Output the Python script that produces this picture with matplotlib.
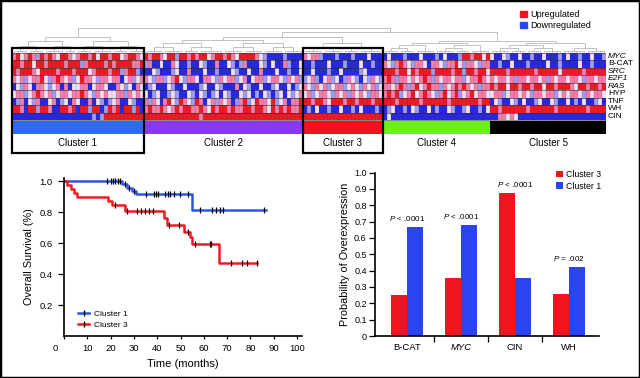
import numpy as np
import matplotlib
matplotlib.use('Agg')
import matplotlib.pyplot as plt
from matplotlib.patches import Rectangle, Patch
from matplotlib.lines import Line2D
from matplotlib.colors import ListedColormap
from matplotlib.collections import LineCollection
import matplotlib.transforms as mtransforms

plt.rcParams['font.family'] = ['Liberation Sans', 'DejaVu Sans']
plt.rcParams['mathtext.fontset'] = 'custom'
plt.rcParams['mathtext.it'] = 'Liberation Sans:italic'
plt.rcParams['mathtext.rm'] = 'Liberation Sans'

# ---------------- data ----------------
genes = ['MYC', 'B-CAT', 'SRC', 'E2F1', 'RAS', 'HYP', 'TNF', 'WH', 'CIN']
italic_genes = ['MYC', 'SRC', 'E2F1', 'RAS']
cluster_names = ['Cluster 1', 'Cluster 2', 'Cluster 3', 'Cluster 4', 'Cluster 5']
cluster_colors = ['#2F6BEE', '#8A38F0', '#F5121E', '#6CF01C', '#000000']
boxed_clusters = [0, 2]

# expression level codes: B strong down, b weak down, w neutral, r weak up, R strong up
level_codes = 'BbwrR'
level_colors = ['#2828E4', '#9C9CF0', '#F0E0F2', '#F47EAA', '#F01A26']

heat_c1 = ['rRwrRrbRrRr' 'wRRrwrRRrRw' 'RRrRRwrRRrw',
           'RRrRRwRRrRR' 'RRrRRRbrRRR' 'RrRrRRRRrrR',
           'RrRRRrwRRRR' 'rRRRrRRRwrR' 'RRrRRbrRRbB',
           'rwrbwrrRwbr' 'RrwrbwRrrwb' 'rrwrrBwrbwr',
           'BwbrwBrrwbw' 'rBrBwwrrBwr' 'rwBBrwbwBrw',
           'wrrbwrRrwrb' 'wrrwrrRrwbr' 'wrwwrrbrwrw',
           'BbrBwbrBBwr' 'BbwBrwBBrBw' 'bBbwrBBwbBB',
           'RRrBRRbRRrB' 'BRRrRBRRbRR' 'BbRrRBRRbRB',
           'BBBBBBBBBBB' 'BBBBBBBBBbB' 'bRRRRRRRRRR']
heat_c2 = ['RrRRrwRRbR' 'RrRrRRwrRR' 'rRrwRRRRrw' 'bBBBBbBBBB',
           'brBBwBBrwB' 'BbBBwbBBrB' 'BwbBbrBBBw' 'bBwBBrbBBw',
           'BBwbBBBbwB' 'BrBBBwBBbB' 'BBwbBBwBBr' 'BBBwBBbBBw',
           'rwbrrbwrRw' 'brrwBrrwbr' 'wrrbwrBwrr' 'bwrrwbrwrb',
           'BbwBBBwbBB' 'wBBBbwBBwb' 'BBBrBwbBBw' 'BBbwBBwBbw',
           'wBbwBBbwbB' 'BwbBwbBbwB' 'wbBBwbwBbB' 'wbBbwBwbwr',
           'rbrwBrRwbR' 'rwbRrBwrbr' 'wrBbrRbwRr' 'rwRbwrBrrR',
           'rRrrRrwrRr' 'RRrrRrwRrR' 'RrRrrRRrRR' 'rwRrRrRrrR',
           'RRRRRRRRRR' 'RRRRrRRRRR' 'RRRRRRRRRR' 'RRRRRRRRRR']
heat_c3 = ['rwrrbBBBbB' 'BBbBBBwBBB',
           'BBbBBBwBBB' 'bBBBwBBbBB',
           'BBwBBBbBBw' 'BBBBbwBBBB',
           'bwrbBwrbwB' 'brwbBwbrwb',
           'rwbrwrbwrr' 'bwrwbrwrbw',
           'wrbwrrwbrw' 'rbrwrwbrrw',
           'RRrRRrwRRR' 'rRRrRRRrRR',
           'BbBwBBbBBw' 'BBbBwBBBbB',
           'RRRRRRRRRR' 'RRRRRRRRRR']
heat_c4 = ['BwBBBbBBBw' 'BBBbBwBBBb' 'RRrRRwR',
           'rwbrRrwbrr' 'wBrrwbrrRw' 'brrwbrr',
           'RRRrRRwRrR' 'RRbRRRRrRR' 'bRRrRRw',
           'rRrbrrwrwr' 'Rrbrwrrwrr' 'bwrrRrw',
           'rrwrRrbrRw' 'rRrrbrwrRr' 'Rrwrbrr',
           'rRrRbwrRwr' 'RrwbrRwrRb' 'wrRwrrw',
           'RRRrRRRRRr' 'RRRRRRrRRR' 'RRRRrRR',
           'BbwBBbBwbB' 'BwBbBBwbBB' 'bwBBbBw',
           'BwBBBBBBBB' 'BBBBBBBBBB' 'BBBBBBB']
heat_c5 = ['wBBwbBBwBB' 'bBBwBBBbBw' 'BBbBBwBBb',
           'BBbBBwBBBb' 'BBBBwBBbBB' 'BBwBBbBBB',
           'RRRRrRRRRR' 'RrRRRRRwRR' 'RRRrRRRRR',
           'rwrrwrbrrw' 'rrwrbrwrrw' 'rrwbrrwrr',
           'RrRRwRRrRR' 'rRRwRRrRRR' 'rwRRrRRrR',
           'wrrbwrrwrw' 'brrwrrbwrw' 'rrwbrwrrw',
           'BwbBBwbBwB' 'BbwBBwbBBw' 'BbBwBBbwB',
           'RRrRRRRRRr' 'RRRRRRrRRR' 'RRRRrRRRR',
           'BBrrwrwBBB' 'BBBBBBBBBB' 'BBBBBBBBB']
heat_clusters = [heat_c1, heat_c2, heat_c3, heat_c4, heat_c5]

# dendrogram structure (leaf-group sizes) and merge heights
dendro_trees = [[[[4, 4], [5, 3]], [[4, 5], [4, 4]]],
                [[[5, 5], [4, 6]], [[5, 5], [5, 5]]],
                [[5, 5], [4, 6]],
                [[[4, 4], 5], [[5, 4], 5]],
                [[[5, 4], [4, 5]], [6, 5]]]
cluster_top_h = [16, 13, 10, 10, 10]
merge_23_h, merge_45_h, merge_2345_h, root_h = 16, 12, 21, 25

# Kaplan-Meier
km1_times = [0, 25, 27, 29, 31, 55, 86.5]
km1_surv = [1.0, 0.979, 0.958, 0.937, 0.916, 0.813, 0.813]
km1_censor = [18.5, 20, 21, 22, 23, 24, 26, 28, 30, 35, 38.5, 39.5, 40.3, 43.5,
              44.5, 45.5, 47, 49.6, 53.4, 58.5, 63.6, 65.4, 66.8, 68.2, 85.6]
km3_times = [0, 1.5, 3, 4.2, 5.5, 18.7, 20.4, 26.3, 42.8, 44, 51.3, 54.2, 55, 66.5, 82.6]
km3_surv = [1.0, 0.974, 0.948, 0.922, 0.897, 0.872, 0.845, 0.808, 0.761, 0.716,
            0.673, 0.640, 0.594, 0.473, 0.473]
km3_censor = [22, 27, 31.4, 33, 34.7, 36.4, 38.1, 44.9, 49.2, 53, 56.4, 62.7, 63.2,
              71.6, 76.5, 78.5, 82.6]

# bar chart
bar_cats = ['B-CAT', 'MYC', 'CIN', 'WH']
bar_c3 = [0.25, 0.357, 0.873, 0.255]
bar_c1 = [0.667, 0.679, 0.353, 0.42]
bar_p = ['$P$ < .0001', '$P$ < .0001', '$P$ < .0001', '$P$ = .002']

RED = '#F0141E'
BLUE = '#2A44EE'
KM_BLUE = '#2B56E6'
KM_RED = '#EE1C22'

# ---------------- figure ----------------
W, H = 640, 378
fig = plt.figure(figsize=(6.4, 3.78), dpi=100)

def px_axes(x0, y0, x1, y1):
    return fig.add_axes([x0 / W, 1 - y1 / H, (x1 - x0) / W, (y1 - y0) / H])

# heatmap region: x in column units, y in pixel units (top->down)
rows = [''.join(c[i] for c in heat_clusters) for i in range(len(genes))]
lens = set(len(r) for r in rows)
if len(lens) != 1:
    raise ValueError(str([len(r) for r in rows]) + str([[len(s) for s in c] for c in heat_clusters]))
ncol = len(rows[0])
sizes = [len(c[0]) for c in heat_clusters]
starts = np.concatenate([[0], np.cumsum(sizes)[:-1]])

Y0, Y1 = 20, 156
axh = px_axes(12, Y0, 606, Y1)
axh.set_xlim(0, ncol)
axh.set_ylim(Y1, Y0)
axh.axis('off')

hm_top, hm_bot = 52.5, 120.0
Z = np.array([[level_codes.index(ch) for ch in r] for r in rows])
yedges = np.linspace(hm_top, hm_bot, len(genes) + 1)
xedges = np.arange(ncol + 1)
axh.pcolormesh(xedges, yedges, Z, cmap=ListedColormap(level_colors),
               vmin=-0.5, vmax=4.5, linewidth=0, antialiased=False)
axh.vlines(xedges[1:-1], hm_top, hm_bot, colors='#303030', linewidth=0.25, alpha=0.55)
axh.hlines(yedges, 0, ncol, colors='#2a2a2a', linewidth=0.4)
ycent = (yedges[:-1] + yedges[1:]) / 2
for g, yc in zip(genes, ycent):
    axh.text(ncol + 0.5, yc, g, fontsize=6.1, va='center', ha='left',
             style='italic' if g in italic_genes else 'normal', clip_on=False)

# cluster color bar + labels
axh.bar(starts, 13, width=sizes, bottom=121, align='edge', color=cluster_colors, linewidth=0)
for s, n, name in zip(starts, sizes, cluster_names):
    axh.text(s + n / 2, 143.5, name, fontsize=7, ha='center', va='center')
for i in boxed_clusters:
    axh.add_patch(Rectangle((starts[i], 48), sizes[i], 105, fill=False, lw=1.6,
                            ec='black', clip_on=False, zorder=5))

# dendrogram
segs = []
base = hm_top

def depth(node):
    return 0 if isinstance(node, int) else 1 + max(depth(c) for c in node)

def draw_sub(node, start, top, maxd):
    if isinstance(node, int):
        xs = start + 0.5 + np.arange(node)
        hl = 1.8
        for x in xs:
            segs.append([(x, base), (x, base - hl)])
        segs.append([(xs[0], base - hl), (xs[-1], base - hl)])
        return xs.mean(), hl, node
    pts = []
    pos = start
    for ch in node:
        cx, chh, n = draw_sub(ch, pos, top, maxd)
        pts.append((cx, chh))
        pos += n
    h = 1.8 + (top - 1.8) * depth(node) / maxd
    for cx, chh in pts:
        segs.append([(cx, base - chh), (cx, base - h)])
    segs.append([(pts[0][0], base - h), (pts[-1][0], base - h)])
    return (pts[0][0] + pts[-1][0]) / 2, h, pos - start

def join(a, b, h):
    segs.append([(a[0], base - a[1]), (a[0], base - h)])
    segs.append([(b[0], base - b[1]), (b[0], base - h)])
    segs.append([(a[0], base - h), (b[0], base - h)])
    return ((a[0] + b[0]) / 2, h)

res = []
for tree, s, top in zip(dendro_trees, starts, cluster_top_h):
    cx, h, n = draw_sub(tree, s, top, depth(tree))
    res.append((cx, h))
c23 = join(res[1], res[2], merge_23_h)
c45 = join(res[3], res[4], merge_45_h)
r2 = join(c23, c45, merge_2345_h)
join(res[0], r2, root_h)
axh.add_collection(LineCollection(segs, colors='#A8A8A8', linewidths=0.5))

# top legend
fig.legend(handles=[Patch(color=RED, label='Upregulated'),
                    Patch(color=BLUE, label='Downregulated')],
           loc='upper left', bbox_to_anchor=(520 / W, 1 - 10 / H), frameon=False,
           fontsize=6.5, handlelength=0.75, handleheight=0.75, handletextpad=0.4,
           labelspacing=0.25, borderpad=0, borderaxespad=0)

# ---------------- Kaplan-Meier ----------------
ax2 = px_axes(64, 178, 302, 336)

def step_at(times, surv, t):
    idx = np.searchsorted(times, t, side='right') - 1
    return np.asarray(surv)[idx]

ax2.step(km1_times, km1_surv, where='post', color=KM_BLUE, lw=1.8)
ax2.step(km3_times, km3_surv, where='post', color=KM_RED, lw=1.8)
ax2.plot(km1_censor, step_at(km1_times, km1_surv, km1_censor), ls='none', marker='|',
         ms=5, mew=0.9, color='black')
ax2.plot(km3_censor, step_at(km3_times, km3_surv, km3_censor), ls='none', marker='|',
         ms=5, mew=0.9, color='black')
ax2.set_xlim(0, 102.1)
ax2.set_ylim(0, 1.02)
ax2.set_xticks(np.arange(0, 101, 10))
ax2.set_yticks([0.2, 0.4, 0.6, 0.8, 1.0])
ax2.set_yticklabels(['0.2', '0.4', '0.6', '0.8', '1.0'])
ax2.tick_params(axis='both', labelsize=6.8, width=0.9, color='black')
ax2.tick_params(axis='y', length=4, pad=4)
ax2.tick_params(axis='x', length=2, pad=4)
lbl0 = ax2.get_xticklabels()[0]
lbl0.set_transform(lbl0.get_transform() + mtransforms.ScaledTranslation(-9 / 100, 0, fig.dpi_scale_trans))
for sp in ['top', 'right']:
    ax2.spines[sp].set_visible(False)
for sp in ['left', 'bottom']:
    ax2.spines[sp].set_linewidth(1.2)
ax2.set_xlabel('Time (months)', fontsize=8, labelpad=4)
ax2.set_ylabel('Overall Survival (%)', fontsize=7.8, labelpad=4)
ax2.legend(handles=[Line2D([], [], color=KM_BLUE, lw=1.8, marker='|', mec='black', ms=5, label='Cluster 1'),
                    Line2D([], [], color=KM_RED, lw=1.8, marker='|', mec='black', ms=5, label='Cluster 3')],
           loc='lower left', bbox_to_anchor=(0.04, 0.02), frameon=False, fontsize=6,
           handlelength=1.4, labelspacing=0.3, handletextpad=0.5, borderpad=0)

# ---------------- bar chart ----------------
ax3 = px_axes(375, 172.5, 599, 336)
x = np.arange(len(bar_cats))
bw = 0.29
ax3.bar(x - bw / 2, bar_c3, width=bw, color=RED, label='Cluster 3')
ax3.bar(x + bw / 2, bar_c1, width=bw, color=BLUE, label='Cluster 1')
for xi, a, b, p in zip(x, bar_c3, bar_c1, bar_p):
    ax3.text(xi, max(a, b) + 0.025, p, fontsize=5.8, ha='center', va='bottom')
ax3.set_xlim(-0.593, 3.556)
ax3.set_ylim(0, 1.0)
ax3.set_yticks(np.arange(0, 1.01, 0.1))
ax3.set_yticklabels(['0'] + ['%.1f' % v for v in np.arange(0.1, 1.01, 0.1)])
ax3.set_xticks([0.5, 1.5, 2.5])
ax3.set_xticklabels([])
ax3.set_xticks(x, minor=True)
ax3.set_xticklabels(bar_cats, minor=True)
for t in ax3.get_xticklabels(minor=True):
    if t.get_text() in italic_genes:
        t.set_style('italic')
ax3.tick_params(axis='x', which='major', length=4, width=0.9)
ax3.tick_params(axis='x', which='minor', length=0, pad=5, labelsize=6.8)
ax3.tick_params(axis='y', length=4, width=0.9, labelsize=6.5, pad=2)
for sp in ['top', 'right']:
    ax3.spines[sp].set_visible(False)
for sp in ['left', 'bottom']:
    ax3.spines[sp].set_linewidth(1.2)
ax3.set_ylabel('Probability of Overexpression', fontsize=7.8, labelpad=3)
ax3.legend(loc='upper left', bbox_to_anchor=(0.79, 1.04), frameon=False, fontsize=6.3,
           handlelength=0.75, handleheight=0.75, handletextpad=0.4, labelspacing=0.25,
           borderpad=0)

# figure border
fig.add_artist(Rectangle((0, 0), 1, 1, transform=fig.transFigure, fill=False,
                         lw=2.5, ec='black'))

fig.savefig('out.png', dpi=100)
